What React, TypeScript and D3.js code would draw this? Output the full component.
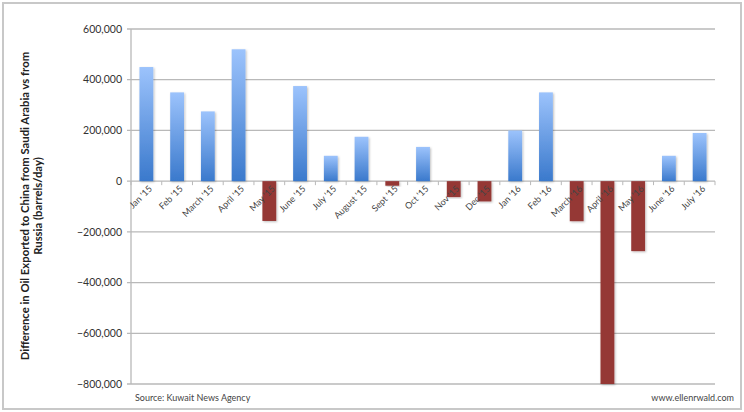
import React from "react";
import * as d3 from "d3";

const categories = ["Jan '15","Feb '15","March '15","April '15","May '15","June '15","July '15","August '15","Sept '15","Oct '15","Nov '15","Dec '15","Jan '16","Feb '16","March '16","April '16","May '16","June '16","July '16"];
const values = [450000,350000,275000,520000,-157000,375000,100000,175000,-18000,135000,-63000,-80000,200000,350000,-158000,-800000,-276000,100000,190000];
const yTicks = [600000,400000,200000,0,-200000,-400000,-600000,-800000];

const W = 744, H = 412;
const FONT = "'Lato', 'Open Sans', 'DejaVu Sans', sans-serif";

export default function App() {
  const x = d3.scaleBand<string>().domain(categories).range([131, 715]).paddingInner(0.55).paddingOuter(0.275);
  const y = d3.scaleLinear().domain([-800000, 600000]).range([384, 29]);
  const fmt = d3.format(",");
  const y0 = y(0);
  const step = x.step();
  const bounds = d3.range(categories.length + 1).map(i => 131 + i * step);
  return (
    <svg width={W} height={H} style={{ position: "absolute", left: 0, top: 0 }}>
      <defs>
        <linearGradient id="blueGrad" x1="0" y1="0" x2="0" y2="1">
          <stop offset="0%" stopColor="#9cc3fc" />
          <stop offset="100%" stopColor="#3a79cc" />
        </linearGradient>
        <filter id="shadow" x="-30%" y="-10%" width="160%" height="120%">
          <feDropShadow dx="1" dy="1" stdDeviation="0.8" floodColor="#000" floodOpacity="0.25" />
        </filter>
      </defs>
      <rect x={0} y={0} width={W} height={H} fill="#fff" />
      <rect x={3} y={3} width={738} height={406} fill="none" stroke="#c8c8c8" strokeWidth={2} />
      {yTicks.map(t => (
        <g key={t}>
          <line x1={127} x2={715} y1={y(t)} y2={y(t)} stroke="#b9b9b9" strokeWidth={1.3} />
          <text x={122} y={y(t)} dy="0.35em" textAnchor="end" fontFamily={FONT} fontSize={10.5} fill="#333">{fmt(t)}</text>
        </g>
      ))}
      <line x1={131} x2={131} y1={y(600000)} y2={y(-800000)} stroke="#b9b9b9" strokeWidth={1.3} />
      {bounds.map((b, i) => (
        <line key={i} x1={b} x2={b} y1={y0} y2={y0 + 4} stroke="#b9b9b9" strokeWidth={1} />
      ))}
      {categories.map((c, i) => {
        const v = values[i];
        const top = v >= 0 ? y(v) : y0;
        const h = Math.abs(y(v) - y0);
        return (
          <rect key={c} x={x(c)} y={top} width={x.bandwidth()} height={h}
            fill={v >= 0 ? "url(#blueGrad)" : "#953735"} filter="url(#shadow)" />
        );
      })}
      {categories.map(c => {
        const cx = (x(c) as number) + x.bandwidth() / 2 + 4;
        const cy = y0 + 6;
        return (
          <text key={c} transform={`translate(${cx},${cy}) rotate(-45)`} textAnchor="end" dy="0.35em"
            fontFamily={FONT} fontSize={9} fill="#444">{c}</text>
        );
      })}
      <text transform={`translate(25,206) rotate(-90)`} textAnchor="middle" dy="0.35em" fontFamily={FONT} fontSize={11.3} fontWeight="bold" fill="#222">
        Difference in Oil Exported to China from Saudi Arabia vs from
      </text>
      <text transform={`translate(38,206) rotate(-90)`} textAnchor="middle" dy="0.35em" fontFamily={FONT} fontSize={11.3} fontWeight="bold" fill="#222">
        Russia (barrels/day)
      </text>
      <text x={135} y={401} fontFamily={FONT} fontSize={9} fill="#444">Source: Kuwait News Agency</text>
      <text x={734} y={401} textAnchor="end" fontFamily={FONT} fontSize={9} fill="#444">www.ellenrwald.com</text>
    </svg>
  );
}
